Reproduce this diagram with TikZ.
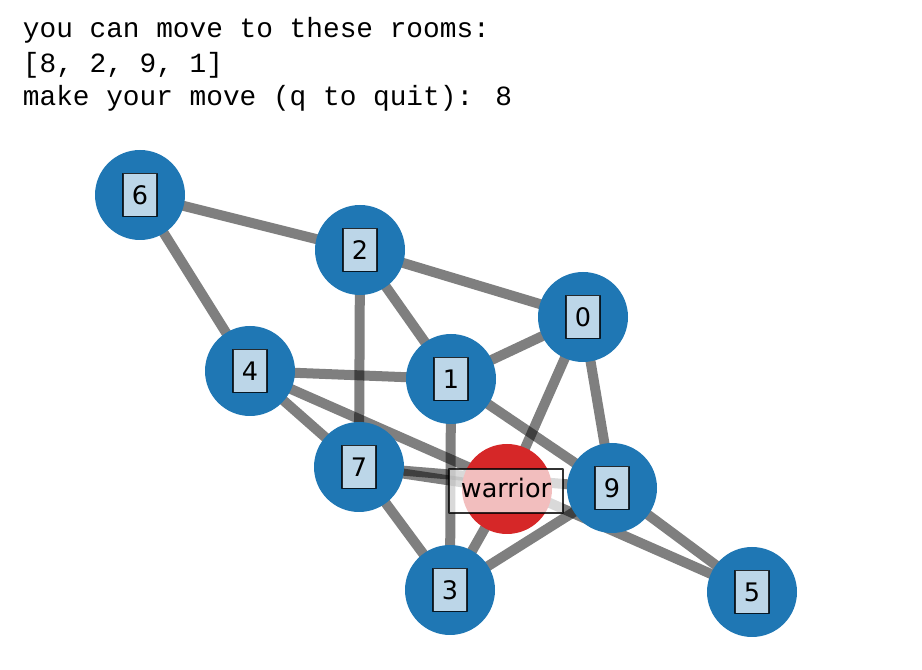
\documentclass[tikz,border=0pt]{standalone}
\usepackage{fontspec}
\usetikzlibrary{backgrounds}
\newfontfamily\consolefont{Liberation Mono}
\newfontfamily\plotfont{DejaVu Sans}
\definecolor{tabblue}{HTML}{1F77B4}
\definecolor{tabred}{HTML}{D62728}

\begin{document}
\begin{tikzpicture}[line join=bevel,
  room/.style={circle,fill=tabblue,draw=none,minimum size=90bp,inner sep=0pt},
  tag/.style={fill=white,fill opacity=0.7,text opacity=1,draw=black,draw opacity=0.8,line width=1.2bp,
    font=\plotfont\fontsize{25.6}{30}\selectfont,inner sep=0pt,minimum width=34bp,minimum height=43bp,
    text height=18.7bp,text depth=0pt},
  passage/.style={draw=black,draw opacity=0.5,line width=10bp},
  console/.style={font=\consolefont\fontsize{27.9}{34}\selectfont,inner sep=0pt,anchor=base west}]
\useasboundingbox (0bp,0bp) rectangle (922bp,670bp);
%%
\node (line1) at (22.7bp,632.7bp) [console] {you can move to these rooms:};
\node (line2) at (22.7bp,597.5bp) [console] {[8, 2, 9, 1]};
\node (line3) at (22.7bp,564bp) [console] {make your move (q to quit): 8};
%%
\node (r6) at (140bp,475bp) [room] {};
\node (r2) at (360bp,420bp) [room] {};
\node (r0) at (583bp,353bp) [room] {};
\node (r4) at (250bp,299bp) [room] {};
\node (r1) at (451bp,291bp) [room] {};
\node (r7) at (359bp,203bp) [room] {};
\node (r8) at (507bp,181bp) [room,fill=tabred] {};
\node (r9) at (612bp,182bp) [room] {};
\node (r3) at (450bp,80bp) [room] {};
\node (r5) at (752bp,78bp) [room] {};
%%
\begin{scope}[on background layer]
  \draw [passage] (r6.center) -- (r2.center);
  \draw [passage] (r6.center) -- (r4.center);
  \draw [passage] (r2.center) -- (r0.center);
  \draw [passage] (r2.center) -- (r1.center);
  \draw [passage] (r2.center) -- (r7.center);
  \draw [passage] (r4.center) -- (r1.center);
  \draw [passage] (r4.center) -- (r7.center);
  \draw [passage] (r4.center) -- (r5.center);
  \draw [passage] (r1.center) -- (r0.center);
  \draw [passage] (r1.center) -- (r9.center);
  \draw [passage] (r1.center) -- (r3.center);
  \draw [passage] (r0.center) -- (r8.center);
  \draw [passage] (r0.center) -- (r9.center);
  \draw [passage] (r7.center) -- (r8.center);
  \draw [passage] (r7.center) -- (r9.center);
  \draw [passage] (r7.center) -- (r3.center);
  \draw [passage] (r3.center) -- (r8.center);
  \draw [passage] (r3.center) -- (r9.center);
  \draw [passage] (r9.center) -- (r5.center);
\end{scope}
%%
\node (t6) at (r6) [tag] {6};
\node (t2) at (r2) [tag] {2};
\node (t0) at (r0) [tag] {0};
\node (t4) at (r4) [tag] {4};
\node (t1) at (r1) [tag] {1};
\node (t7) at (r7) [tag] {7};
\node (t8) at (506bp,179bp) [tag,minimum width=114bp,minimum height=44bp,text height=14bp] {warrior};
\node (t9) at (r9) [tag] {9};
\node (t3) at (r3) [tag] {3};
\node (t5) at (r5) [tag] {5};
%
\end{tikzpicture}
\end{document}
